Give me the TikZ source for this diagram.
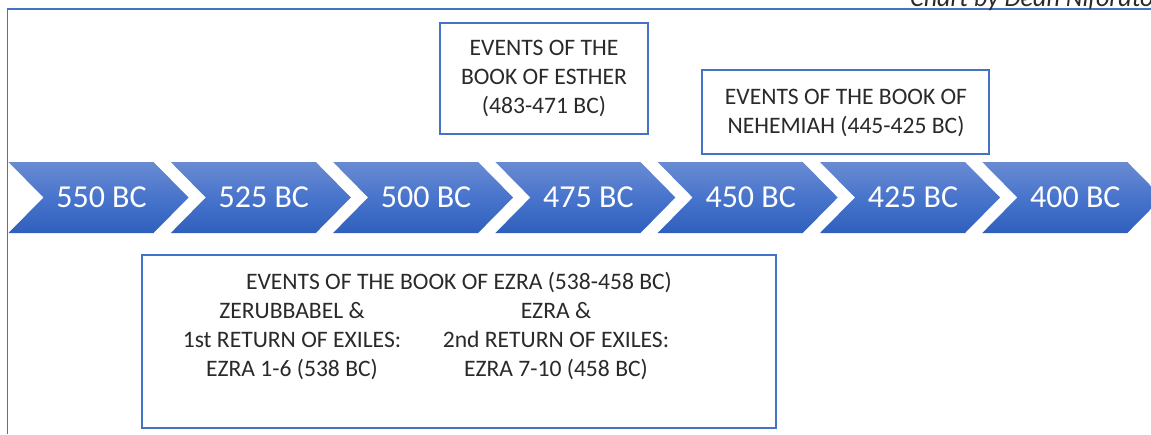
\documentclass[tikz,border=0pt]{standalone}
\usepackage{fontspec}
\setmainfont{Carlito}
\definecolor{frameblue}{HTML}{4472C4}
\definecolor{chevtop}{HTML}{6A8BD2}
\definecolor{chevmid}{HTML}{4874CC}
\definecolor{chevbot}{HTML}{2F60BC}
\definecolor{txt}{HTML}{2A2A2A}
\begin{document}
\begin{tikzpicture}[x=1pt,y=-1pt,
  frameline/.style={draw=frameblue,line width=1.5pt},
  evbox/.style={draw=frameblue,line width=1.4pt,fill=white,anchor=north west,inner sep=0pt,outer sep=0pt},
  boxtext/.style={text=txt,font=\fontsize{23.6}{29}\selectfont,anchor=base,inner sep=0pt},
  yeartext/.style={text=white,font=\fontsize{32}{38}\selectfont,anchor=base,inner sep=0pt},
  credit/.style={text=txt,font=\fontsize{26}{30}\selectfont\itshape,anchor=base west,inner sep=0pt},
  chev/.style={top color=chevtop,bottom color=chevbot,middle color=chevmid,draw=none}
]
\useasboundingbox (0,0) rectangle (1151,434);
\clip (0,0) rectangle (1151,434);
\fill[white] (0,0) rectangle (1151,434);

% outer frame
\coordinate (fb) at (7.5,434);
\coordinate (fc) at (7.5,9);
\coordinate (fr) at (1151,9);
\draw[frameline] (fb) -- (fc) -- (fr);

% credit text
\node[credit] (credit) at (910,6.5) {Chart by Dean Niforatos};

% chevrons
\foreach \k/\yr in {0/550,1/525,2/500,3/475,4/450,5/425,6/400}{
  \pgfmathsetmacro{\xo}{8.5+\k*162.3}
  \shade[chev] (\xo,162) -- ++(145,0) -- ++(35,35.5) -- ++(-35,35.5) -- ++(-145,0) -- ++(35,-35.5) -- cycle;
  \node[yeartext] (yr\k) at (\xo+93,207) {\yr\ BC};
}

% Esther box
\node[evbox,minimum width=208pt,minimum height=111pt] (esther) at (440,23) {};
\node[boxtext] (est1) at (544,55) {EVENTS OF THE};
\node[boxtext] (est2) at (544,84) {BOOK OF ESTHER};
\node[boxtext] (est3) at (544,113) {(483-471 BC)};

% Nehemiah box
\node[evbox,minimum width=287pt,minimum height=84pt] (neh) at (702,70) {};
\node[boxtext] (neh1) at (846,104) {EVENTS OF THE BOOK OF};
\node[boxtext] (neh2) at (846,133) {NEHEMIAH (445-425 BC)};

% Ezra box
\node[evbox,minimum width=634pt,minimum height=173pt] (ezra) at (142,255) {};
\node[boxtext] (ez0) at (459,289) {EVENTS OF THE BOOK OF EZRA (538-458 BC)};
\node[boxtext] (ezl1) at (292,318) {ZERUBBABEL \&};
\node[boxtext] (ezl2) at (292,347) {1st RETURN OF EXILES:};
\node[boxtext] (ezl3) at (292,376) {EZRA 1-6 (538 BC)};
\node[boxtext] (ezr1) at (556,318) {EZRA \&};
\node[boxtext] (ezr2) at (556,347) {2nd RETURN OF EXILES:};
\node[boxtext] (ezr3) at (556,376) {EZRA 7-10 (458 BC)};
\end{tikzpicture}
\end{document}
